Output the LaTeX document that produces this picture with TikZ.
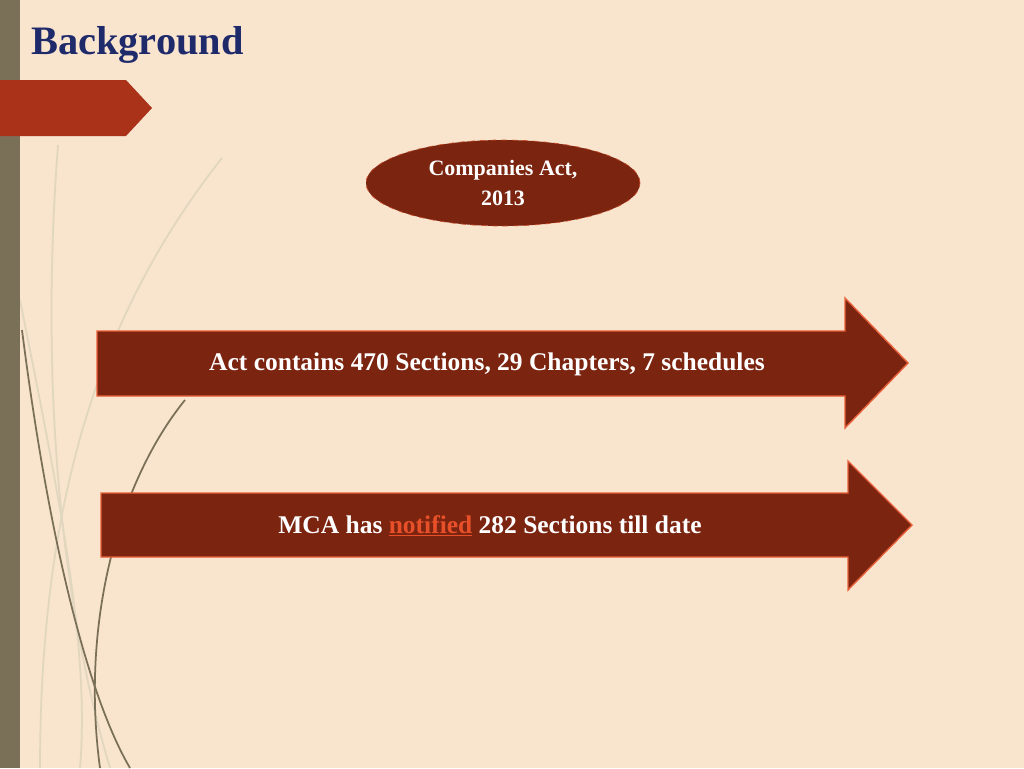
\documentclass[tikz,border=0pt]{standalone}
\usepackage{fontspec}
\setmainfont{Liberation Serif}
\usetikzlibrary{shapes,positioning,calc}
\definecolor{slidebg}{RGB}{249,228,206}
\definecolor{sidebar}{RGB}{122,112,88}
\definecolor{tabred}{RGB}{169,50,24}
\definecolor{titleblue}{RGB}{31,42,107}
\definecolor{boxred}{RGB}{123,36,16}
\definecolor{edgeorange}{RGB}{232,96,58}
\definecolor{linkred}{RGB}{232,80,42}
\definecolor{curvegray}{RGB}{225,214,190}

\begin{document}
\begin{tikzpicture}[x=0.02cm,y=-0.02cm,
    banner/.style={fill=boxred, draw=edgeorange, line width=0.8pt},
    bannertext/.style={text=white, font=\fontsize{14.5}{17}\selectfont\bfseries},
    curve/.style={line width=1pt},
]

% Background
\fill[slidebg] (0,0) rectangle (1024,768);
\useasboundingbox (0,0) rectangle (1024,768);

% Decorative curves
\draw[curve, curvegray] (58,145) .. controls (40,380) and (60,600) .. (110,768);
\draw[curve, curvegray] (222,158) .. controls (110,300) and (40,480) .. (40,768);
\draw[curve, curvegray] (20,300) .. controls (60,500) and (90,650) .. (80,768);
\draw[curve, sidebar] (22,330) .. controls (50,550) and (90,700) .. (130,768);
\draw[curve, sidebar] (185,400) .. controls (120,480) and (80,620) .. (100,768);

% Side bar and tab
\fill[sidebar] (0,0) rectangle (20,768);
\fill[tabred] (0,80) -- (126,80) -- (152,108) -- (126,136) -- (0,136) -- cycle;

% Title
\node[anchor=west, text=titleblue, font=\fontsize{23}{27}\selectfont\bfseries] (title) at (25,45) {Background};

% Ellipse
\node[ellipse, fill=boxred, draw=edgeorange!70!boxred, dashed, minimum width=274*0.02cm, minimum height=86*0.02cm,
      align=center, text=white, font=\fontsize{12.5}{17}\selectfont\bfseries] (act) at (503,183) {Companies Act,\\2013};

% Arrows
\draw[banner] (97,331) -- (845,331) -- (845,298) -- (908,363) -- (845,428) -- (845,396) -- (97,396) -- cycle;
\node[bannertext] (sections) at (487,364) {Act contains 470 Sections, 29 Chapters, 7 schedules};

\draw[banner] (101,493) -- (848,493) -- (848,461) -- (912,525) -- (848,590) -- (848,557) -- (101,557) -- cycle;
\node[bannertext] (notified) at (490,526) {MCA has \textcolor{linkred}{\underline{notified}} 282 Sections till date};

\end{tikzpicture}
\end{document}
